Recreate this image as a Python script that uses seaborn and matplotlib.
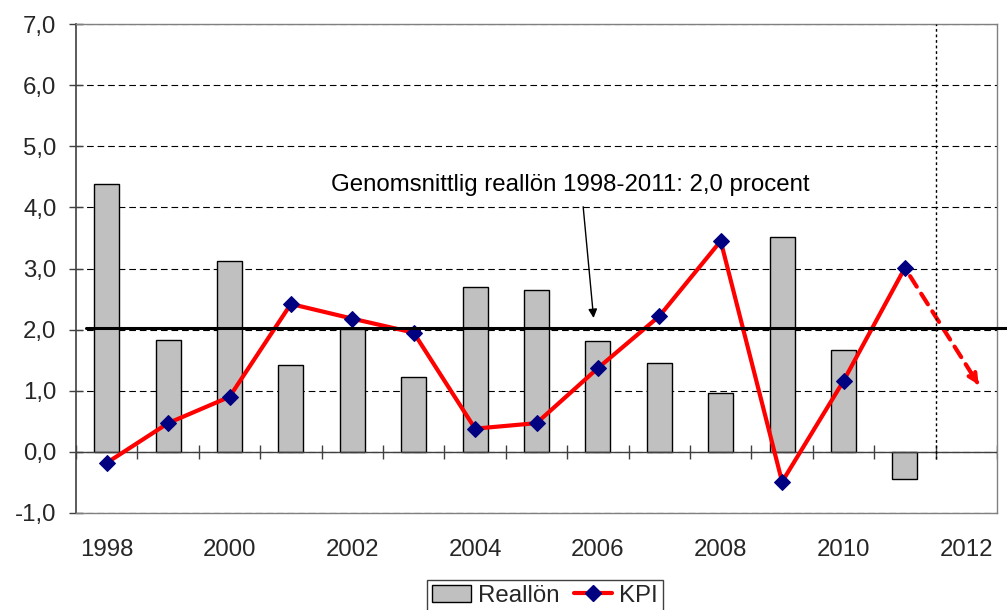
import matplotlib
matplotlib.use("Agg")
import matplotlib.pyplot as plt
from matplotlib.patches import Patch
from matplotlib.lines import Line2D
import numpy as np
import pandas as pd
import seaborn as sns

# Data
years = [str(y) for y in range(1998, 2013)]
reallon = [4.39, 1.83, 3.13, 1.42, 2.01, 1.23, 2.70, 2.65, 1.82, 1.46, 0.97, 3.52, 1.67, -0.44]
kpi = [-0.18, 0.47, 0.90, 2.42, 2.18, 1.95, 0.38, 0.47, 1.37, 2.22, 3.45, -0.49, 1.16, 3.01]
kpi_forecast_2012 = 1.1
y_ticks = list(range(-1, 8))
x_tick_years = years[::2]
note = "Genomsnittlig reallön 1998-2011: 2,0 procent"

sns.set_theme(style="white")
plt.rcParams["font.family"] = ["Liberation Sans", "DejaVu Sans"]

fig = plt.figure(figsize=(10.07, 6.10), dpi=100)
ax = fig.add_axes([76 / 1007, 97 / 610, 921 / 1007, 489 / 610])

df = pd.DataFrame({"year": years[:len(reallon)], "reallon": reallon})
sns.barplot(data=df, x="year", y="reallon", order=years, color="#C0C0C0",
            saturation=1, edgecolor="black", linewidth=1, width=0.41,
            errorbar=None, ax=ax, zorder=2)

# KPI line with diamond markers
sns.lineplot(x=np.arange(len(kpi)), y=kpi, color="red", lw=3, marker="D",
             markersize=8, markerfacecolor="#000080", markeredgecolor="#000080",
             ax=ax, zorder=4)

# dashed forecast arrow for 2012
n = len(kpi) - 1
fx = n + 1.2
ax.annotate("", xy=(fx, kpi_forecast_2012), xytext=(n, kpi[-1]),
            arrowprops=dict(arrowstyle="-", ls=(0, (3, 2)), color="red", lw=3,
                            shrinkA=7, shrinkB=2))
hx = fx - 0.1 * (fx - n)
hy = kpi_forecast_2012 + 0.1 * (kpi[-1] - kpi_forecast_2012)
ax.annotate("", xy=(fx, kpi_forecast_2012), xytext=(hx, hy),
            arrowprops=dict(arrowstyle="->", color="red", lw=3,
                            mutation_scale=14, shrinkA=0, shrinkB=0))

# average line
avg = np.mean(reallon)
ax.axhline(avg, xmin=10 / 921, xmax=931 / 921, color="black", lw=2.2,
           clip_on=False, zorder=5)

# category axis at zero with ticks between categories
ax.axhline(0, color="#404040", lw=1, zorder=3)
ax.vlines(np.arange(-0.5, len(years)), -0.12, 0.12, color="#404040", lw=1, zorder=3)
ax.vlines(len(reallon) - 0.5, -0.12, 7, colors="black", linestyles=(0, (2, 2)), lw=1, zorder=3)

ax.text(7.55, 4.37, note, ha="center", va="center", fontsize=17.3, color="black")
ax.annotate("", xy=(7.93, 2.19), xytext=(7.76, 4.01),
            arrowprops=dict(arrowstyle="-|>", color="black", lw=1,
                            mutation_scale=13, shrinkA=0, shrinkB=0), zorder=6)

ax.set_xlim(-0.5, len(years) - 0.5)
ax.set_ylim(-1, 7)
ax.set_yticks(y_ticks)
ax.set_yticklabels([f"{v:.1f}".replace(".", ",") for v in y_ticks], fontsize=17.3)
ax.set_xticks(range(0, len(years), 2))
ax.set_xticklabels(x_tick_years, fontsize=17.3)
ax.tick_params(axis="x", length=0, pad=19)
ax.tick_params(axis="y", left=True, direction="inout", length=10, width=1,
               color="#404040", pad=9)
ax.set_xlabel("")
ax.set_ylabel("")

ax.set_axisbelow(True)
ax.yaxis.grid(True, color="black", ls=(0, (6, 3.5)), lw=0.8)
for side in ["top", "right", "bottom"]:
    ax.spines[side].set_color("#808080")
    ax.spines[side].set_linewidth(1)
ax.spines["left"].set_color("#404040")
ax.spines["left"].set_linewidth(1.2)

handles = [
    Patch(facecolor="#C0C0C0", edgecolor="black", label="Reallön"),
    Line2D([0], [0], color="red", lw=3, marker="D", markersize=8,
           markerfacecolor="#000080", markeredgecolor="#000080", label="KPI"),
]
leg = fig.legend(handles=handles, loc="upper center", bbox_to_anchor=(545 / 1007, 1 - 568 / 610),
                 ncol=2, frameon=True, fancybox=False, edgecolor="#404040", fontsize=17.3,
                 handlelength=1.6, columnspacing=0.6, handletextpad=0.3, borderpad=0.2,
                 framealpha=1)
leg.get_frame().set_linewidth(1)

fig.savefig("out.png", dpi=100)
